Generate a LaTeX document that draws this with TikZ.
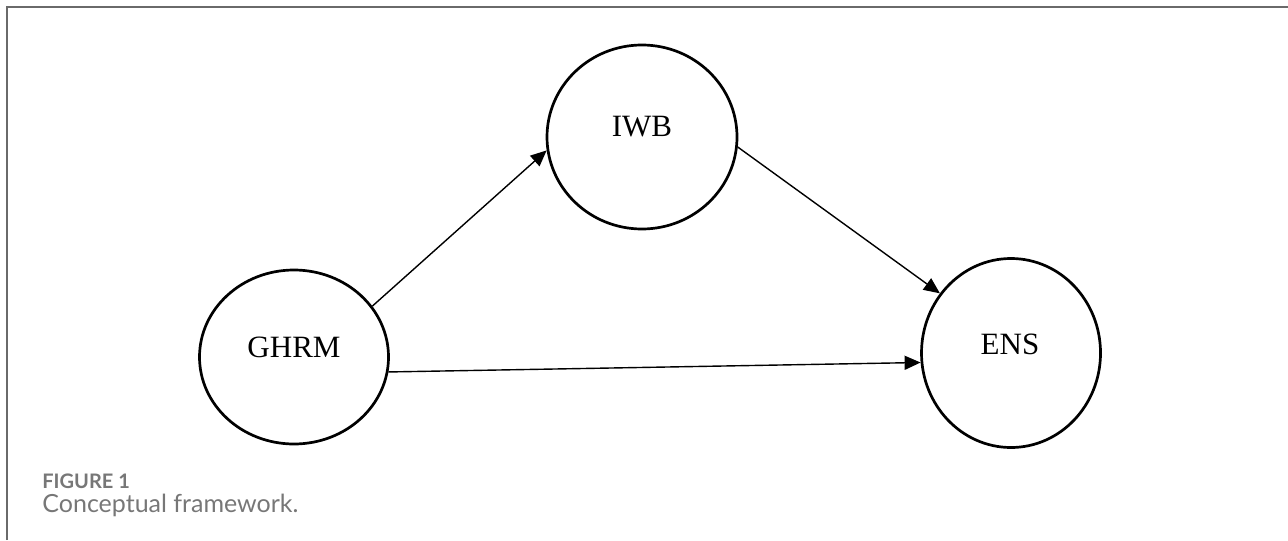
\documentclass[tikz,border=0pt]{standalone}
\usepackage{fontspec}
\setmainfont{Liberation Serif}
\newfontfamily\capfont{Lato}
\usetikzlibrary{shapes.geometric,arrows.meta}
\definecolor{framegray}{HTML}{6A6A6A}
\definecolor{capgray}{HTML}{777777}
\tikzset{
  construct/.style={ellipse,draw=black,line width=1.35pt,inner sep=0pt},
  conlabel/.style={font=\fontsize{15.5}{18}\selectfont,inner sep=0pt},
  path link/.style={line width=0.7pt,-{Triangle[length=8pt,width=7pt]}},
  caption/.style={anchor=base west,inner sep=0pt,text=capgray},
}
\begin{document}
\begin{tikzpicture}[x=0.5pt,y=-0.5pt]
\useasboundingbox (0,0) rectangle (1288,540);
% panel frame (top and left rules)
\coordinate (fl) at (7,540);
\coordinate (ftl) at (7,7);
\coordinate (ftr) at (1288,7);
\draw[framegray,line width=1pt] (fl) -- (ftl) -- (ftr);

% constructs
\node[construct,minimum width=94.5pt,minimum height=87pt] (ghrm) at (294,357) {};
\node[construct,minimum width=95pt,minimum height=92pt] (iwb) at (642,137) {};
\node[construct,minimum width=89.5pt,minimum height=94.5pt] (ens) at (1011,353) {};

\node[conlabel] (ghrmT) at (294,347) {GHRM};
\node[conlabel] (iwbT) at (642,127) {IWB};
\node[conlabel] (ensT) at (1010,344) {ENS};

% hypothesised paths
\draw[path link] (ghrm.33) -- (iwb.188);
\draw[path link] (iwb.-6.5) -- (ens.140);
\draw[path link] (ghrm.-9) -- (ens.186);

% caption
\node[caption,font=\capfont\bfseries\fontsize{10}{12}\selectfont] (fig) at (42,488) {FIGURE 1};
\node[caption,font=\capfont\fontsize{12.5}{15}\selectfont] (cap) at (42,512) {Conceptual framework.};
\end{tikzpicture}
\end{document}
